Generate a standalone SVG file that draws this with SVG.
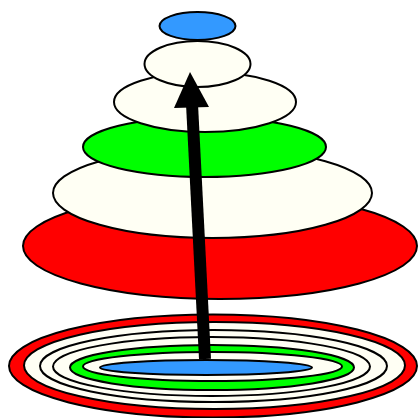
<svg xmlns="http://www.w3.org/2000/svg" width="418" height="418" viewBox="0 0 418 418">
<style>
ellipse{stroke:#000;stroke-width:2}
.r{fill:#ff0000}.w{fill:#fffff4}.g{fill:#00ff00}.b{fill:#3399ff}
.edge{stroke:#000;stroke-width:12;fill:none}
</style>
<rect width="418" height="418" fill="#fff"/>
<g id="stack">
<g id="s-red"><ellipse class="r" cx="220" cy="246" rx="197" ry="53"/></g>
<g id="s-white1"><ellipse class="w" cx="212.5" cy="193" rx="159.5" ry="45"/></g>
<g id="s-green"><ellipse class="g" cx="204.5" cy="147" rx="121.5" ry="30"/></g>
<g id="s-white2"><ellipse class="w" cx="205" cy="102" rx="91" ry="30"/></g>
<g id="s-white3"><ellipse class="w" cx="197.5" cy="64" rx="53" ry="23"/></g>
<g id="s-blue"><ellipse class="b" cx="197.5" cy="26" rx="38" ry="14"/></g>
</g>
<g id="rings">
<g id="r-red"><ellipse class="r" cx="213" cy="366" rx="204" ry="51.5"/></g>
<g id="r-white1"><ellipse class="w" cx="214.5" cy="365.5" rx="190.5" ry="43.5"/></g>
<g id="r-white2"><ellipse class="w" cx="213.5" cy="366" rx="173.5" ry="36"/></g>
<g id="r-white3"><ellipse class="w" cx="211.5" cy="366.5" rx="158.5" ry="29.5"/></g>
<g id="r-green"><ellipse class="g" cx="212" cy="367.5" rx="142" ry="22.5"/></g>
<g id="r-white4"><ellipse class="w" cx="212.5" cy="366.5" rx="129.5" ry="14.5"/></g>
<g id="r-blue"><ellipse class="b" cx="206" cy="367.5" rx="106" ry="7.5"/></g>
</g>
<g id="connectors">
<line class="edge" x1="205" y1="359" x2="192" y2="104"/>
<polygon points="190,72 174,108 209,107" fill="#000"/>
</g>
</svg>
